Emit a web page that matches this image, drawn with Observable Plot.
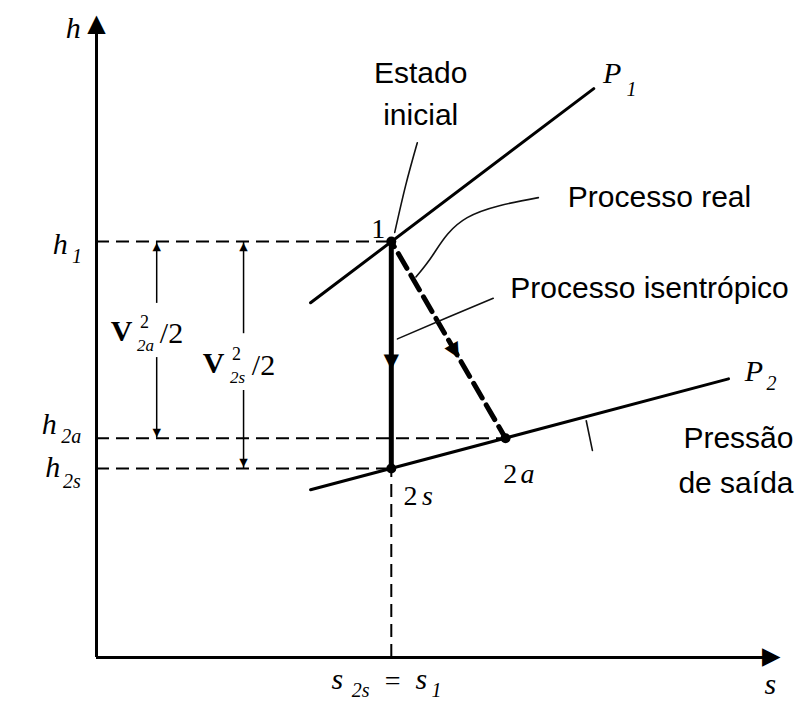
<!DOCTYPE html>
<html><head><meta charset="utf-8">
<script src="https://cdn.jsdelivr.net/npm/d3@7"></script>
<script src="https://cdn.jsdelivr.net/npm/@observablehq/plot@0.6"></script>
<style>body{margin:0;background:#fff} #chart svg{display:block}</style>
</head><body><div id="chart"></div>
<script>
// ---- states (entropy s, enthalpy h) in arbitrary units ----
const stateNames = ["1", "2s", "2a"];
const stateS = [4.31, 4.31, 5.98];
const stateH = [6.45, 2.93, 3.40];

// ---- isobars ----
const p1S = [3.13, 7.27], p1H = [5.50, 8.82];
const p2S = [3.13, 9.24], p2H = [2.60, 4.32];

// ---- dimension lines (V^2/2) ----
const dimS = [0.88, 2.15];
const dimTop = [6.45, 6.45];
const dimBottom = [3.40, 2.93];
const dimGapTop = [5.49, 5.02];
const dimGapBottom = [4.65, 4.14];
const dimSub = ["2a", "2s"];
const dimLabelS = [0.365, 1.71];
const dimLabelH = [5.06, 4.56];

// ---- arrowheads ----
const headS = [0, 9.88, 4.31, 5.25];
const headH = [9.84, 0, 4.56, 4.73];
const headAngle = [0, 90, 180, 150];
const headSize = [24, 24, 20, 20];
const dimHeadS = [0.88, 0.88, 2.15, 2.15];
const dimHeadH = [6.37, 3.48, 6.37, 3.01];
const dimHeadAngle = [0, 180, 0, 180];

// ---- leaders ----
const leadEstadoS = [4.69, 4.52, 4.36], leadEstadoH = [7.98, 7.32, 6.59];
const leadRealS = [6.46, 5.42, 4.93, 4.67], leadRealH = [7.13, 6.82, 6.26, 5.90];
const leadIsoS = [5.80, 5.13, 4.40], leadIsoH = [5.57, 5.27, 4.94];
const leadPresS = [7.16, 7.25], leadPresH = [3.67, 3.21];

// ---- Portuguese annotations ----
const noteText = ["Estado", "inicial", "Processo real", "Processo isentrópico", "Pressão", "de saída"];
const noteS = [4.74, 4.74, 6.89, 6.05, 10.19, 10.19];
const noteH = [9.05, 8.40, 7.13, 5.72, 3.40, 2.70];
const noteAnchor = ["middle", "middle", "start", "start", "end", "end"];

// ---- symbol labels ----
const symText = ["h", "s", "h", "h", "h", "P", "P", "s", "s"];
const symS = [-0.34, 9.85, -0.53, -0.69, -0.64, 7.54, 9.61, 3.52, 4.75];
const symH = [9.75, -0.42, 6.41, 3.62, 2.94, 9.06, 4.44, -0.34, -0.34];
const subText = ["1", "2a", "2s", "1", "2", "2s", "1"];
const subS = [-0.285, -0.37, -0.36, 7.82, 9.87, 3.86, 4.97];
const subH = [6.22, 3.42, 2.73, 8.81, 4.24, -0.52, -0.52];
const eqText = ["="], eqS = [4.33], eqH = [-0.36];
const ptNum = ["1", "2", "2"], ptNumS = [4.12, 4.59, 6.05], ptNumH = [6.64, 2.50, 2.84];
const ptLet = ["s", "a"], ptLetS = [4.84, 6.30], ptLetH = [2.50, 2.84];

const zip = (keys, ...cols) => cols[0].map((_, i) => Object.fromEntries(keys.map((k, j) => [k, cols[j][i]])));
const states = zip(["name", "s", "h"], stateNames, stateS, stateH);
const st = n => states.find(d => d.name === n);
const p1 = zip(["s", "h"], p1S, p1H);
const p2 = zip(["s", "h"], p2S, p2H);
const dims = zip(["s", "top", "bottom", "gt", "gb"], dimS, dimTop, dimBottom, dimGapTop, dimGapBottom);
const dimLabels = zip(["s", "h", "sub"], dimLabelS, dimLabelH, dimSub);
const heads = zip(["s", "h", "a", "size"], headS, headH, headAngle, headSize);
const dimHeads = zip(["s", "h", "a"], dimHeadS, dimHeadH, dimHeadAngle);
const notes = zip(["t", "s", "h", "anchor"], noteText, noteS, noteH, noteAnchor);
const syms = zip(["t", "s", "h"], symText, symS, symH);
const subs = zip(["t", "s", "h"], subText, subS, subH);
const eqs = zip(["t", "s", "h"], eqText, eqS, eqH);
const nums = zip(["t", "s", "h"], ptNum, ptNumS, ptNumH);
const lets = zip(["t", "s", "h"], ptLet, ptLetS, ptLetH);

const SANS = "Liberation Sans, Arial, sans-serif";
const SERIF = "Liberation Serif, Times New Roman, serif";
const GLYPH = "DejaVu Sans, sans-serif";
const leader = (S, H) => Plot.line(zip(["s", "h"], S, H), {x: "s", y: "h", stroke: "#111", strokeWidth: 1.6, curve: "natural"});
const headMark = (data, size) => Plot.text(data, {x: "s", y: "h", text: () => "\u25B2", rotate: "a", fontSize: size, fontFamily: GLYPH, fill: "black"});

const chart = Plot.plot({
  width: 807, height: 701,
  marginLeft: 96, marginRight: 27, marginTop: 12, marginBottom: 44,
  x: {domain: [0, 10], axis: null},
  y: {domain: [0, 10], axis: null},
  style: {background: "white", overflow: "visible"},
  marks: [
    // axes
    Plot.ruleX([0], {y1: 0, y2: 9.75, stroke: "black", strokeWidth: 3}),
    Plot.ruleY([0], {x1: 0, x2: 9.8, stroke: "black", strokeWidth: 3}),
    // dashed reference lines
    Plot.ruleY(states, {y: "h", x1: 0, x2: "s", stroke: "black", strokeWidth: 2, strokeDasharray: "13,7"}),
    Plot.ruleX([st("2s")], {x: "s", y1: 0, y2: "h", stroke: "black", strokeWidth: 2, strokeDasharray: "13,7"}),
    // isobars
    Plot.line(p1, {x: "s", y: "h", stroke: "black", strokeWidth: 3}),
    Plot.line(p2, {x: "s", y: "h", stroke: "black", strokeWidth: 3}),
    // processes
    Plot.line([st("1"), st("2s")], {x: "s", y: "h", stroke: "black", strokeWidth: 5}),
    Plot.line([st("1"), st("2a")], {x: "s", y: "h", stroke: "black", strokeWidth: 5, strokeDasharray: "17,8", strokeDashoffset: -14}),
    // dimension lines
    Plot.ruleX(dims, {x: "s", y1: "top", y2: "gt", stroke: "black", strokeWidth: 1.5}),
    Plot.ruleX(dims, {x: "s", y1: "gb", y2: "bottom", stroke: "black", strokeWidth: 1.5}),
    headMark(dimHeads, 11),
    // arrowheads
    headMark(heads.filter(d => d.size === 24), 24),
    headMark(heads.filter(d => d.size === 20), 20),
    // leaders
    leader(leadEstadoS, leadEstadoH),
    leader(leadRealS, leadRealH),
    leader(leadIsoS, leadIsoH),
    leader(leadPresS, leadPresH),
    // state points
    Plot.dot(states, {x: "s", y: "h", r: 5, fill: "black", stroke: null}),
    // annotations
    Plot.text(notes.filter(d => d.anchor === "middle"), {x: "s", y: "h", text: "t", textAnchor: "middle", fontSize: 30, fontFamily: SANS, fill: "black"}),
    Plot.text(notes.filter(d => d.anchor === "start"), {x: "s", y: "h", text: "t", textAnchor: "start", fontSize: 30, fontFamily: SANS, fill: "black"}),
    Plot.text(notes.filter(d => d.anchor === "end"), {x: "s", y: "h", text: "t", textAnchor: "end", fontSize: 30, fontFamily: SANS, fill: "black"}),
    // symbols
    Plot.text(syms, {x: "s", y: "h", text: "t", fontSize: 30, fontStyle: "italic", fontFamily: SERIF, fill: "black"}),
    Plot.text(subs, {x: "s", y: "h", text: "t", fontSize: 20, fontStyle: "italic", fontFamily: SERIF, fill: "black"}),
    Plot.text(eqs, {x: "s", y: "h", text: "t", fontSize: 28, fontFamily: SERIF, fill: "black"}),
    Plot.text(nums, {x: "s", y: "h", text: "t", fontSize: 28, fontFamily: SERIF, fill: "black"}),
    Plot.text(lets, {x: "s", y: "h", text: "t", fontSize: 28, fontStyle: "italic", fontFamily: SERIF, fill: "black"}),
    // V^2/2 labels
    Plot.text(dimLabels, {x: "s", y: "h", text: () => "V", fontSize: 30, fontWeight: "bold", fontFamily: SERIF, fill: "black"}),
    Plot.text(dimLabels, {x: "s", y: "h", text: () => "2", dx: 23, dy: -9, fontSize: 18, fontFamily: SERIF, fill: "black"}),
    Plot.text(dimLabels, {x: "s", y: "h", text: "sub", dx: 24, dy: 14, fontSize: 17, fontStyle: "italic", fontFamily: SERIF, fill: "black"}),
    Plot.text(dimLabels, {x: "s", y: "h", text: () => "/2", dx: 50, dy: 2, fontSize: 30, fontFamily: SERIF, fill: "black"})
  ]
});
document.getElementById("chart").append(chart);
</script>
</body></html>
